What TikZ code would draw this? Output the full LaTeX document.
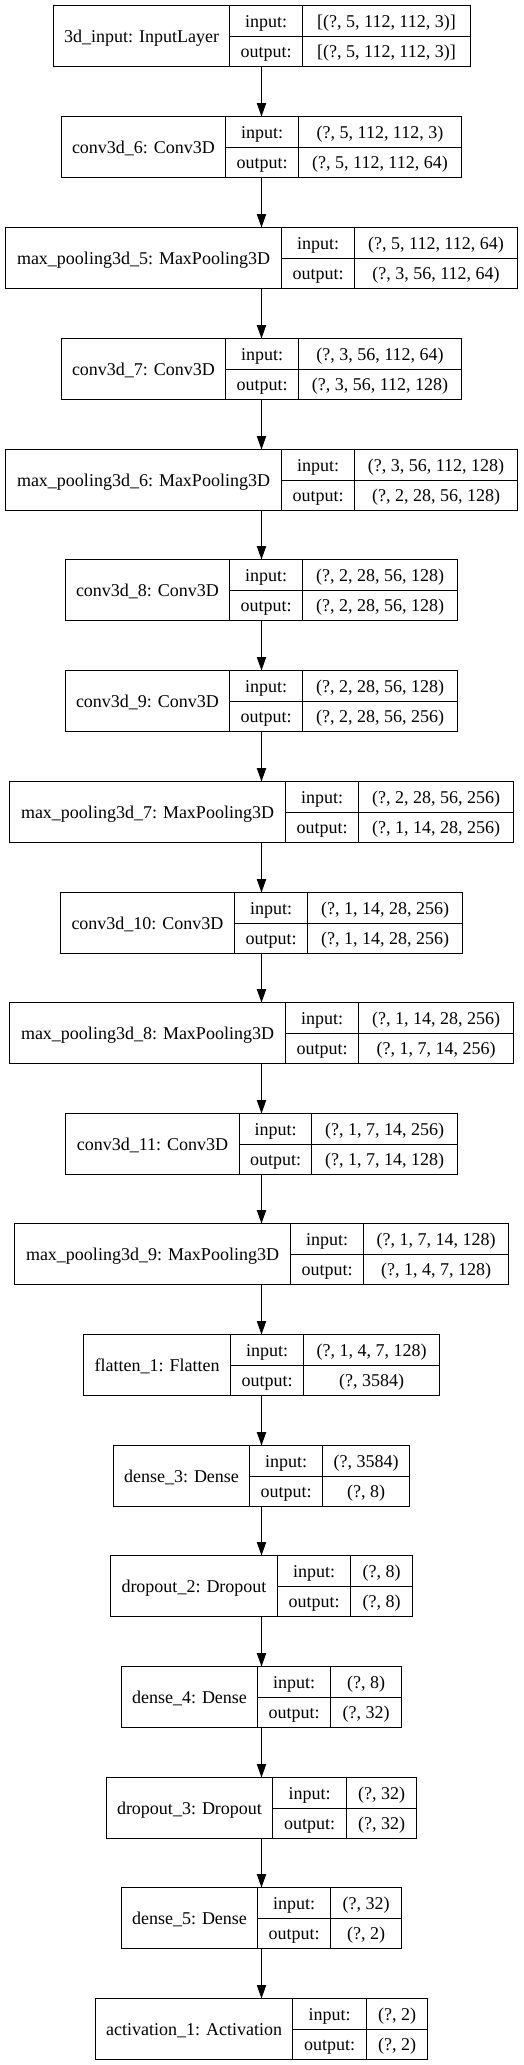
\documentclass[tikz,border=0pt]{standalone}
\usepackage{fontspec}
\setmainfont{Liberation Serif}
\usetikzlibrary{arrows.meta}
\tikzset{
  box/.style={draw=black, line width=1pt, inner sep=0pt, outer sep=0pt, minimum height=61pt},
  cell/.style={draw=black, line width=1pt},
  txt/.style={inner sep=0pt, anchor=base, font=\fontsize{18}{21}\selectfont},
  arr/.style={draw=black, line width=1pt, -{Triangle[length=13.5pt,width=9.3pt]}}
}
\newcommand\lyr[9]{%
  \pgfmathsetmacro\lT{round(#2)+0.5}%
  \pgfmathsetmacro\lB{\lT+61}%
  \pgfmathsetmacro\lM{\lT+30.5}%
  \pgfmathsetmacro\lL{round(#3)+0.5}%
  \pgfmathsetmacro\lA{round(#4)+0.5}%
  \pgfmathsetmacro\lC{round(#5)+0.5}%
  \pgfmathsetmacro\lR{round(#6)+0.5}%
  \node[box, minimum width={(\lR-\lL)*1pt}] (#1) at ({(\lL+\lR)/2},\lM) {};
  \draw[cell] (\lA,\lT) -- (\lA,\lB);
  \draw[cell] (\lC,\lT) -- (\lC,\lB);
  \draw[cell] (\lA,\lM) -- (\lR,\lM);
  \node[txt] (#1n) at ({(\lL+\lA)/2},{\lM+6.5}) {#7};
  \node[txt] (#1i) at ({(\lA+\lC)/2},{\lT+15.3+6.3}) {input:};
  \node[txt] (#1iv) at ({(\lC+\lR)/2},{\lT+15.3+6.3}) {#8};
  \node[txt] (#1o) at ({(\lA+\lC)/2},{\lT+46+6.3}) {output:};
  \node[txt] (#1ov) at ({(\lC+\lR)/2},{\lT+46+6.3}) {#9};
}
\begin{document}
\begin{tikzpicture}[x=1pt,y=-1pt]
\useasboundingbox (0,0) rectangle (523,2065);
\coordinate (axis) at (261.5,0);
\lyr{b1}{5}{53.3}{228.7}{301.7}{469.7}{3d\_input: InputLayer}{[(?, 5, 112, 112, 3)]}{[(?, 5, 112, 112, 3)]}
\lyr{b2}{116}{61}{225}{298.3}{460.7}{conv3d\_6: Conv3D}{(?, 5, 112, 112, 3)}{(?, 5, 112, 112, 64)}
\lyr{b3}{227.3}{4.7}{280.7}{354}{517}{max\_pooling3d\_5: MaxPooling3D}{(?, 5, 112, 112, 64)}{(?, 3, 56, 112, 64)}
\lyr{b4}{337.7}{61}{225.3}{298.3}{461}{conv3d\_7: Conv3D}{(?, 3, 56, 112, 64)}{(?, 3, 56, 112, 128)}
\lyr{b5}{448.7}{4.7}{280.7}{354}{517}{max\_pooling3d\_6: MaxPooling3D}{(?, 3, 56, 112, 128)}{(?, 2, 28, 56, 128)}
\lyr{b6}{559.3}{65}{229.3}{302}{456.7}{conv3d\_8: Conv3D}{(?, 2, 28, 56, 128)}{(?, 2, 28, 56, 128)}
\lyr{b7}{670}{65}{229.3}{302}{456.7}{conv3d\_9: Conv3D}{(?, 2, 28, 56, 128)}{(?, 2, 28, 56, 256)}
\lyr{b8}{780.7}{9}{285}{358.3}{513}{max\_pooling3d\_7: MaxPooling3D}{(?, 2, 28, 56, 256)}{(?, 1, 14, 28, 256)}
\lyr{b9}{891.7}{60.3}{234}{306.7}{461.7}{conv3d\_10: Conv3D}{(?, 1, 14, 28, 256)}{(?, 1, 14, 28, 256)}
\lyr{b10}{1002}{9}{285}{358.3}{513}{max\_pooling3d\_8: MaxPooling3D}{(?, 1, 14, 28, 256)}{(?, 1, 7, 14, 256)}
\lyr{b11}{1112.7}{65}{238.7}{311.3}{456.7}{conv3d\_11: Conv3D}{(?, 1, 7, 14, 256)}{(?, 1, 7, 14, 128)}
\lyr{b12}{1223.3}{13.7}{289.7}{363}{508.3}{max\_pooling3d\_9: MaxPooling3D}{(?, 1, 7, 14, 128)}{(?, 1, 4, 7, 128)}
\lyr{b13}{1334}{83}{230}{303}{438.7}{flatten\_1: Flatten}{(?, 1, 4, 7, 128)}{(?, 3584)}
\lyr{b14}{1444.7}{112.7}{248.7}{321.7}{409.3}{dense\_3: Dense}{(?, 3584)}{(?, 8)}
\lyr{b15}{1555.3}{110.3}{276.7}{350.3}{412}{dropout\_2: Dropout}{(?, 8)}{(?, 8)}
\lyr{b16}{1666}{121}{257.3}{330}{400.7}{dense\_4: Dense}{(?, 8)}{(?, 32)}
\lyr{b17}{1776.7}{105.7}{272}{345.7}{416}{dropout\_3: Dropout}{(?, 32)}{(?, 32)}
\lyr{b18}{1887.3}{121}{257.3}{330}{400.7}{dense\_5: Dense}{(?, 32)}{(?, 2)}
\lyr{b19}{1997.7}{95.3}{292.3}{365.7}{427}{activation\_1: Activation}{(?, 2)}{(?, 2)}
\foreach \a/\b in {b1/b2,b2/b3,b3/b4,b4/b5,b5/b6,b6/b7,b7/b8,b8/b9,b9/b10,b10/b11,b11/b12,b12/b13,b13/b14,b14/b15,b15/b16,b16/b17,b17/b18,b18/b19}
  \draw[arr] (\a.south -| axis) -- (\b.north -| axis);
\end{tikzpicture}
\end{document}
